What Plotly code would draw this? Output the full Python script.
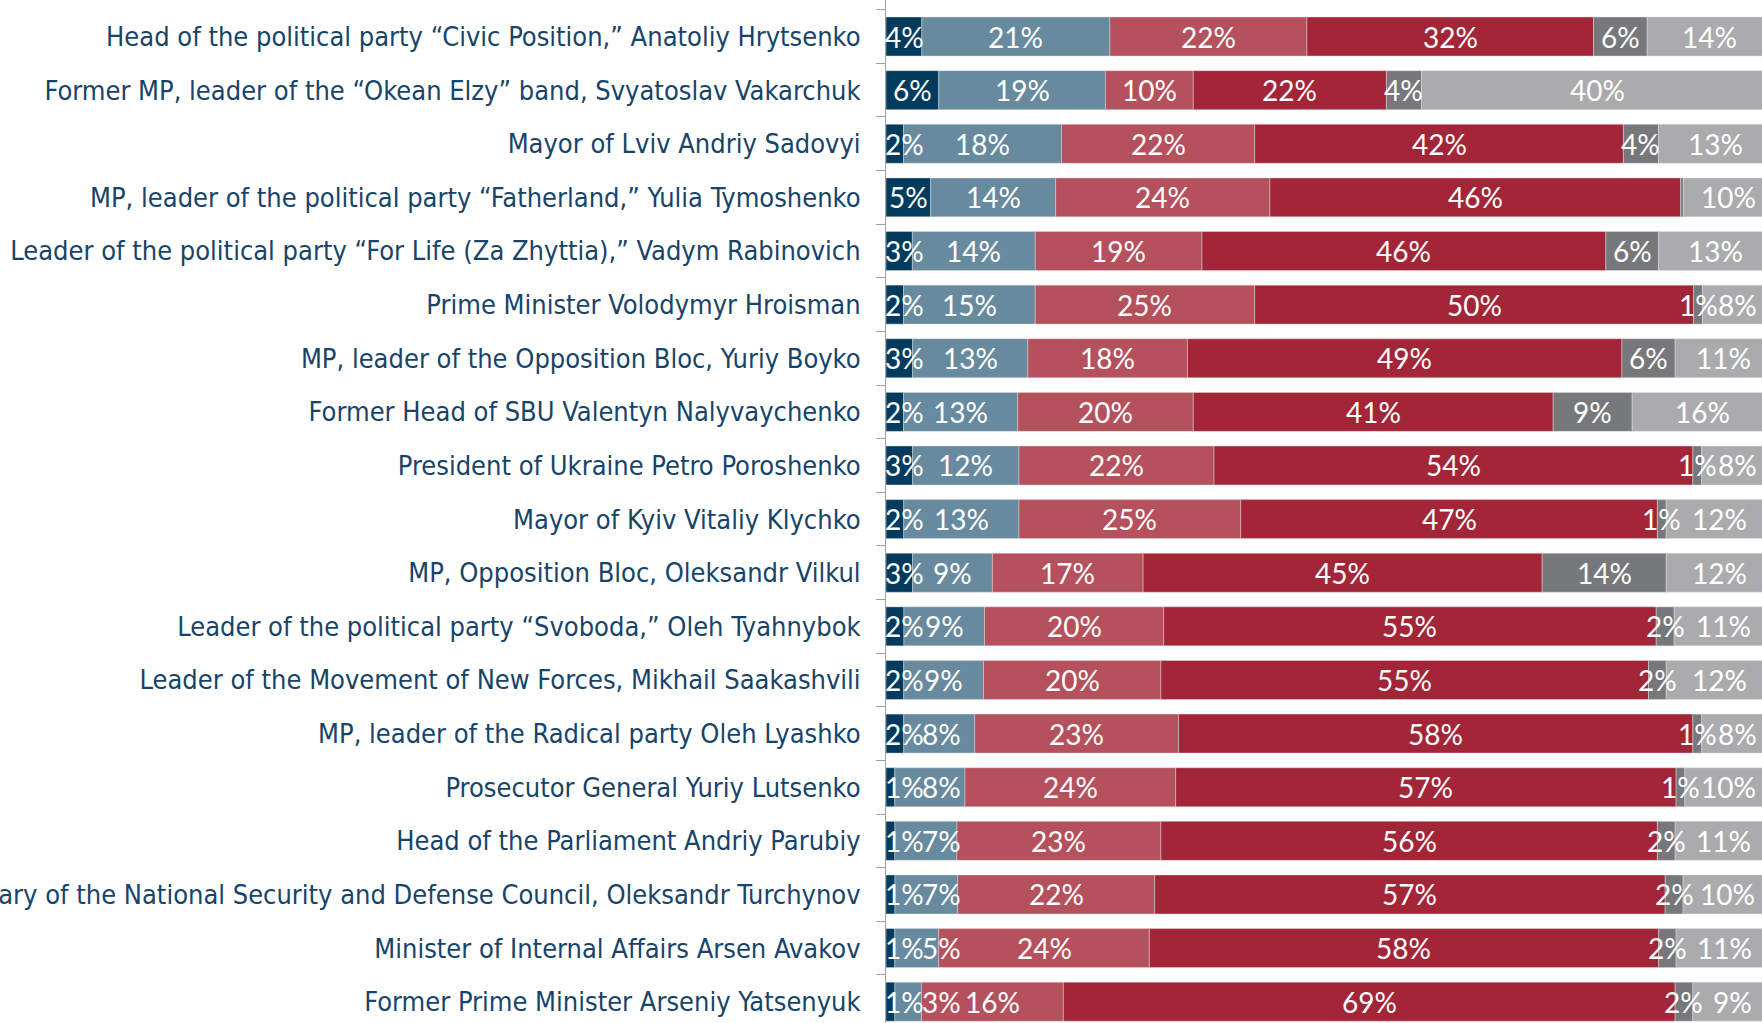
import numpy as np
import plotly.graph_objects as go

categories = [
    "Head of the political party “Civic Position,” Anatoliy Hrytsenko",
    "Former MP, leader of the “Okean Elzy” band, Svyatoslav Vakarchuk",
    "Mayor of Lviv Andriy Sadovyi",
    "MP, leader of the political party “Fatherland,” Yulia Tymoshenko",
    "Leader of the political party “For Life (Za Zhyttia),” Vadym Rabinovich",
    "Prime Minister Volodymyr Hroisman",
    "MP, leader of the Opposition Bloc, Yuriy Boyko",
    "Former Head of SBU Valentyn Nalyvaychenko",
    "President of Ukraine Petro Poroshenko",
    "Mayor of Kyiv Vitaliy Klychko",
    "MP, Opposition Bloc, Oleksandr Vilkul",
    "Leader of the political party “Svoboda,” Oleh Tyahnybok",
    "Leader of the Movement of New Forces, Mikhail Saakashvili",
    "MP, leader of the Radical party Oleh Lyashko",
    "Prosecutor General Yuriy Lutsenko",
    "Head of the Parliament Andriy Parubiy",
    "Secretary of the National Security and Defense Council, Oleksandr Turchynov",
    "Minister of Internal Affairs Arsen Avakov",
    "Former Prime Minister Arseniy Yatsenyuk",
]

very_favorable = [4, 6, 2, 5, 3, 2, 3, 2, 3, 2, 3, 2, 2, 2, 1, 1, 1, 1, 1]
somewhat_favorable = [21, 19, 18, 14, 14, 15, 13, 13, 12, 13, 9, 9, 9, 8, 8, 7, 7, 5, 3]
somewhat_unfavorable = [22, 10, 22, 24, 19, 25, 18, 20, 22, 25, 17, 20, 20, 23, 24, 23, 22, 24, 16]
very_unfavorable = [32, 22, 42, 46, 46, 50, 49, 41, 54, 47, 45, 55, 55, 58, 57, 56, 57, 58, 69]
hard_to_say = [6, 4, 4, 0.3, 6, 1, 6, 9, 1, 1, 14, 2, 2, 1, 1, 2, 2, 2, 2]
not_familiar = [14, 40, 13, 10, 13, 8, 11, 16, 8, 12, 12, 11, 12, 8, 10, 11, 10, 11, 9]

series = [
    ("Very favorable", very_favorable, "#023B5D"),
    ("Somewhat favorable", somewhat_favorable, "#678A9E"),
    ("Somewhat unfavorable", somewhat_unfavorable, "#B5505D"),
    ("Very unfavorable", very_unfavorable, "#A32538"),
    ("Hard to say", hard_to_say, "#77787B"),
    ("Not familiar", not_familiar, "#ABABAD"),
]

LABEL_FONT = "DejaVu Sans Condensed, Liberation Sans Narrow, Arial Narrow, DejaVu Sans"
VALUE_FONT = "Lato, Open Sans, sans-serif"
MIN_FIRST_LABEL_X = 2.05   # first label kept inside the plot area
MIN_SECOND_LABEL_X = 6.3   # keeps the 2nd label clear of the 1st, as in the source

# 100% stacked bars: each row scaled to its own total
raw = np.array([s[1] for s in series], dtype=float)
shares = raw / raw.sum(axis=0) * 100

fig = go.Figure()
annotations = []

cum = np.zeros(len(categories))
for si, (name, vals, color) in enumerate(series):
    widths = shares[si]
    fig.add_trace(go.Bar(
        y=categories, x=widths, base=cum.copy(), orientation="h", name=name,
        marker=dict(color=color, line=dict(color="rgba(225,225,225,0.55)", width=0.8)),
        hoverinfo="skip", showlegend=False,
    ))
    for cat, c, w, v in zip(categories, cum, widths, vals):
        if v < 0.5:
            continue
        x = c + w / 2
        if si == 0:
            x = max(x, MIN_FIRST_LABEL_X)
        elif si == 1:
            x = max(x, MIN_SECOND_LABEL_X)
        annotations.append(dict(
            x=x, y=cat, xref="x", yref="y", text=f"{v:.0f}%", showarrow=False,
            xanchor="center", yanchor="middle", yshift=0, borderpad=0,
            font=dict(family=VALUE_FONT, size=28, color="white"),
        ))
    cum = cum + widths

fig.update_layout(
    template="none",
    barmode="overlay",
    bargap=0.273,
    width=1762, height=1023,
    margin=dict(l=886, r=0, t=0, b=0, pad=0),
    paper_bgcolor="white", plot_bgcolor="white",
    annotations=annotations,
    xaxis=dict(range=[0, 98.8], visible=False, showgrid=False, zeroline=False, automargin=False),
    yaxis=dict(
        type="category", categoryorder="array", categoryarray=categories,
        range=[18.397, -0.681], automargin=False,
        showline=True, linecolor="#A0A0A0", linewidth=1,
        ticks="outside", tickson="boundaries", ticklen=9, tickcolor="#A0A0A0", tickwidth=1,
        ticklabelstandoff=19,
        showgrid=False, zeroline=False,
        tickfont=dict(family=LABEL_FONT, size=27, color="#174468"),
    ),
)

fig.write_html("out.html", config={"displayModeBar": False},
               post_script="document.body.style.margin='0';")
